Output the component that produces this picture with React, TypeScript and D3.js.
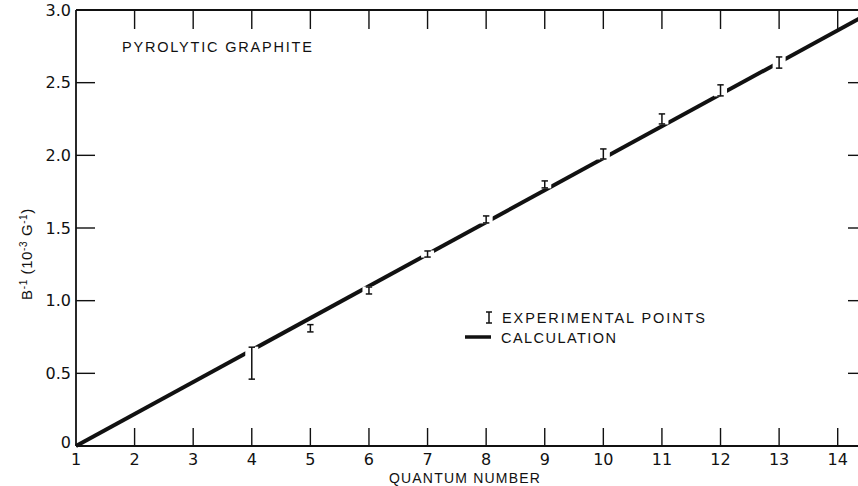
import React from "react";
import * as d3 from "d3";

// Measured inverse field at each Landau quantum number (error bar limits, 10^-3 G^-1)
const quantum = [4, 5, 6, 7, 8, 9, 10, 11, 12, 13];
const errLow = [0.46, 0.785, 1.046, 1.3, 1.535, 1.776, 1.975, 2.216, 2.409, 2.6];
const errHigh = [0.68, 0.835, 1.094, 1.342, 1.583, 1.824, 2.044, 2.285, 2.485, 2.677];

// Calculated straight line through the origin at n = 1
const calcN = [1, 14.5];
const calcB = [0, 2.97];

// Axis ticks
const xTicks = [1, 2, 3, 4, 5, 6, 7, 8, 9, 10, 11, 12, 13, 14];
const yTicks = [0, 0.5, 1.0, 1.5, 2.0, 2.5, 3.0];
const yTickLabels = ["0", "0.5", "1.0", "1.5", "2.0", "2.5", "3.0"];

const W = 858;
const H = 486;
const FONT = "'Liberation Sans', Arial, sans-serif";
const NUM_FONT = "'DejaVu Sans', 'Liberation Sans', sans-serif";

export default function App() {
  const x = d3.scaleLinear().domain([1, 14.5]).range([76, 867]);
  const y = d3.scaleLinear().domain([0, 3]).range([446, 10]);

  const calcLine = d3
    .line<number>()
    .x((_, i) => x(calcN[i]))
    .y((d) => y(d));

  const pts = quantum.map((n, i) => ({ n, lo: errLow[i], hi: errHigh[i] }));
  const [x0, x1] = x.range();
  const [yb, yt] = y.range();
  const inner = yTicks.filter((v) => v > 0 && v < 3);
  const serif = 3.2;

  return (
    <svg
      width={W}
      height={H}
      viewBox={`0 0 ${W} ${H}`}
      style={{ position: "absolute", left: 0, top: 0, background: "#fff" }}
      fontFamily={FONT}
    >
      <rect x={0} y={0} width={W} height={H} fill="#fff" />

      {/* frame */}
      <g stroke="#111" strokeWidth={1.8} fill="none">
        <line x1={x0} y1={yt} x2={x1} y2={yt} />
        <line x1={x0} y1={yb} x2={x1} y2={yb} />
        <line x1={x0} y1={yt} x2={x0} y2={yb} />
        <line x1={x1} y1={yt} x2={x1} y2={yb} />
      </g>

      {/* ticks */}
      <g stroke="#111" strokeWidth={1.4}>
        {xTicks
          .filter((t) => t > 1)
          .map((t) => (
            <g key={`xt${t}`}>
              <line x1={x(t)} x2={x(t)} y1={yt} y2={yt + 19} />
              <line x1={x(t)} x2={x(t)} y1={yb} y2={yb - 18} />
            </g>
          ))}
        {inner.map((t) => (
          <g key={`yt${t}`}>
            <line x1={x0} x2={x0 + 19} y1={y(t)} y2={y(t)} />
            <line x1={x1 - 19} x2={x1} y1={y(t)} y2={y(t)} />
          </g>
        ))}
      </g>

      {/* tick labels */}
      <g fontSize={16} fill="#111" fontFamily={NUM_FONT}>
        {xTicks.map((t) => (
          <text key={`xl${t}`} x={x(t)} y={465} textAnchor="middle">
            {t}
          </text>
        ))}
        {yTicks.map((t, i) => (
          <text
            key={`yl${t}`}
            x={71}
            y={t === 0 ? y(t) - 4 : y(t)}
            textAnchor="end"
            dominantBaseline="central"
          >
            {yTickLabels[i]}
          </text>
        ))}
      </g>

      {/* axis titles */}
      <text
        x={465}
        y={483}
        textAnchor="middle"
        fontSize={14}
        letterSpacing={1.2}
        fill="#111"
      >
        QUANTUM NUMBER
      </text>
      <text
        transform="translate(32,254) rotate(-90)"
        textAnchor="middle"
        fontSize={15}
        letterSpacing={0.6}
        fill="#111"
      >
        B<tspan dy={-5} fontSize={10}>-1</tspan>
        <tspan dy={5}>{"  (10"}</tspan>
        <tspan dy={-5} fontSize={10}>-3</tspan>
        <tspan dy={5}> G</tspan>
        <tspan dy={-5} fontSize={10}>-1</tspan>
        <tspan dy={5}>)</tspan>
      </text>

      {/* chart title */}
      <text x={122} y={52} fontSize={14.5} letterSpacing={1.8} fill="#111">
        PYROLYTIC  GRAPHITE
      </text>

      {/* calculation line */}
      <path
        d={calcLine(calcB) || ""}
        stroke="#111"
        strokeWidth={4}
        fill="none"
      />

      {/* gaps in the line around the experimental points */}
      {pts.map((p) => (
        <rect
          key={`gap${p.n}`}
          x={x(p.n) - 6.5}
          y={y(p.hi) - 0.5}
          width={13}
          height={y(p.lo) - y(p.hi) + 1}
          fill="#fff"
        />
      ))}

      {/* experimental points */}
      <g stroke="#111" strokeWidth={1.5} fill="none">
        {pts.map((p) => (
          <g key={`pt${p.n}`}>
            <line x1={x(p.n)} x2={x(p.n)} y1={y(p.hi)} y2={y(p.lo)} />
            <line x1={x(p.n) - serif} x2={x(p.n) + serif} y1={y(p.hi)} y2={y(p.hi)} />
            <line x1={x(p.n) - serif} x2={x(p.n) + serif} y1={y(p.lo)} y2={y(p.lo)} />
          </g>
        ))}
      </g>

      {/* legend */}
      <g fill="#111" fontSize={14.5}>
        <g stroke="#111" strokeWidth={1.5}>
          <line x1={489} x2={489} y1={312} y2={323} />
          <line x1={486} x2={492} y1={312} y2={312} />
          <line x1={486} x2={492} y1={323} y2={323} />
        </g>
        <text x={502} y={323} textLength={203} lengthAdjust="spacing">
          EXPERIMENTAL  POINTS
        </text>
        <line x1={465} x2={491} y1={337} y2={337} stroke="#111" strokeWidth={3.5} />
        <text x={501} y={343} textLength={115} lengthAdjust="spacing">
          CALCULATION
        </text>
      </g>
    </svg>
  );
}
